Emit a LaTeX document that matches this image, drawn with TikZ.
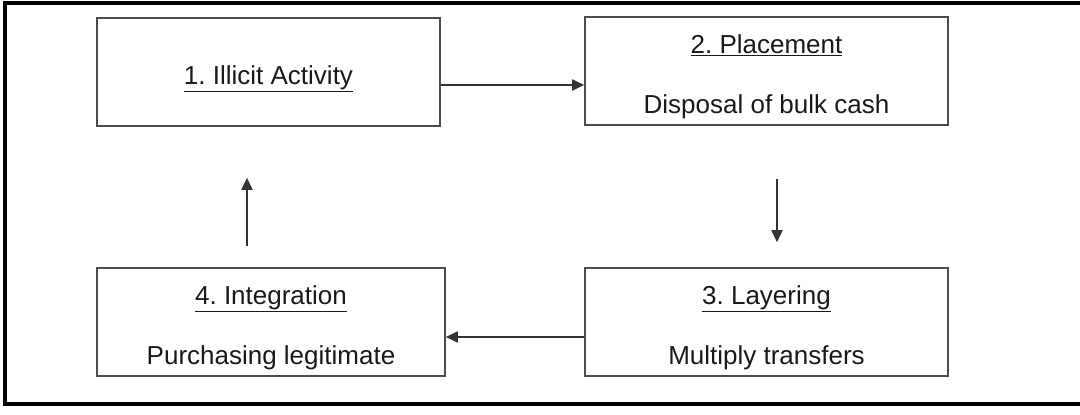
\documentclass[tikz,border=0pt]{standalone}
\usepackage{fontspec}
\setmainfont{Liberation Sans}
\usetikzlibrary{arrows.meta}

\begin{document}
\begin{tikzpicture}[
  x=1pt, y=-1pt,
  stage/.style={draw=black!70, line width=1.6pt, minimum width=343pt, minimum height=108pt,
    align=center, text=black!90, font=\fontsize{26}{30}\selectfont\frenchspacing, inner sep=0pt},
  flow/.style={draw=black!80, line width=1.8pt, -{Triangle[length=12pt,width=11pt]}}
]
  \useasboundingbox (0,0) rectangle (1080,415);
  % Outer frame
  \draw[line width=4pt] (5,3) rectangle (1100,404);

  % Stages
  \node[stage] (illicit) at (268.5,72) {\rule{0pt}{33pt}\underline{1. Illicit Activity}};
  \node[stage, minimum width=363pt] (place) at (766.5,71) {\rule{0pt}{30pt}\underline{2. Placement}\\[30pt]Disposal of bulk cash};
  \node[stage, minimum width=363pt] (layer) at (766.5,322) {\rule{0pt}{30pt}\underline{3. Layering}\\[30pt]Multiply transfers};
  \node[stage, minimum width=348pt] (integ) at (271,322) {\rule{0pt}{30pt}\underline{4. Integration}\\[30pt]Purchasing legitimate};

  % Cycle
  \draw[flow] ([yshift=-13pt]illicit.east) -- ([yshift=-13pt]illicit.east -| place.west);
  \draw[flow] ([xshift=10.5pt,yshift=-53pt]place.south) -- ([xshift=10.5pt,yshift=25pt]layer.north);
  \draw[flow] ([yshift=-15pt]layer.west) -- ([yshift=-15pt]layer.west -| integ.east);
  \draw[flow] ([xshift=-24pt,yshift=21pt]integ.north) -- ([xshift=-24pt,yshift=-51pt]integ.north |- illicit.south);

\end{tikzpicture}
\end{document}
